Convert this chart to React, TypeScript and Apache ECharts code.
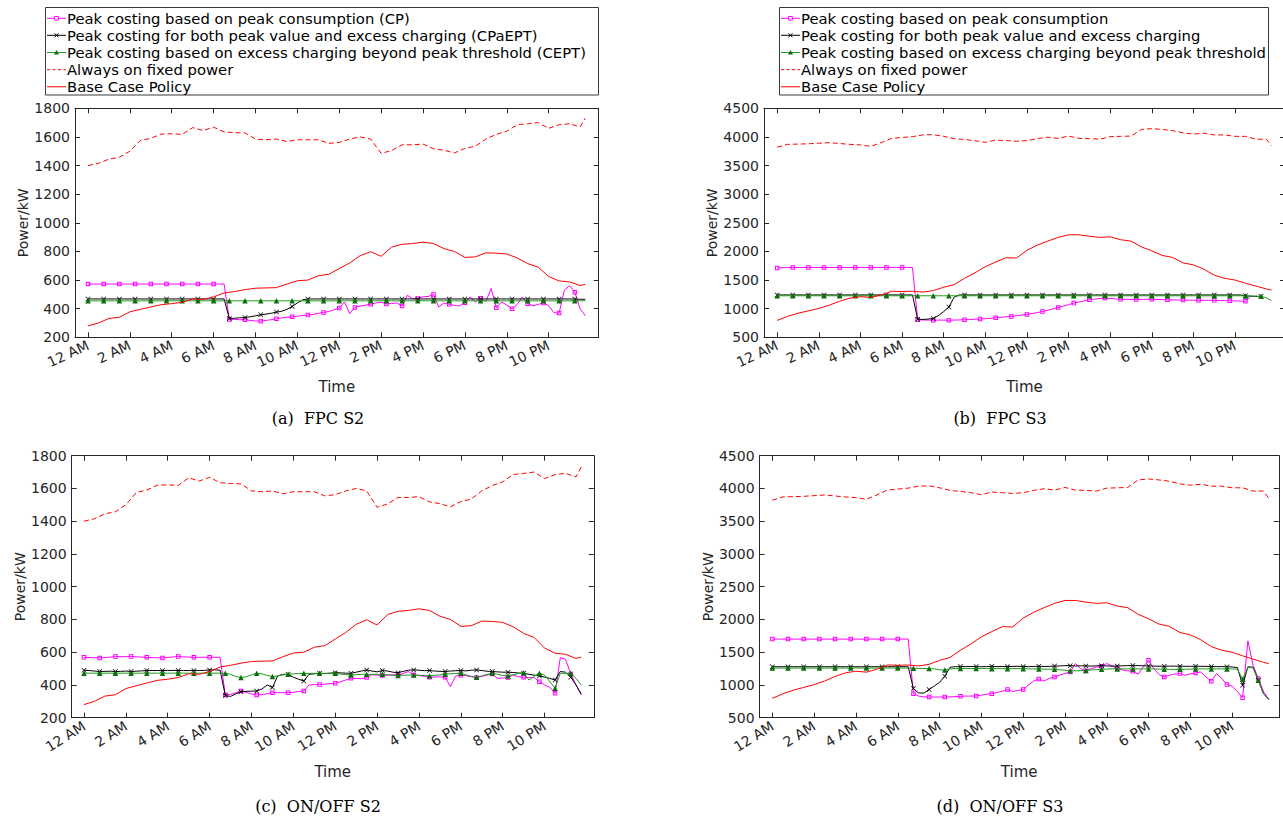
import React, { useEffect, useRef } from "react";
import * as echarts from "echarts";

// ---------- time grids ----------
const HOURS_15 = Array.from({ length: 96 }, (_, i) => i * 0.25);
const HOURS_30 = [...Array.from({ length: 48 }, (_, i) => i * 0.5), 23.75];
const TICK_HOURS = [0, 2, 4, 6, 8, 10, 12, 14, 16, 18, 20, 22];
const TICK_LABELS = ["12 AM", "2 AM", "4 AM", "6 AM", "8 AM", "10 AM", "12 PM", "2 PM", "4 PM", "6 PM", "8 PM", "10 PM"];

const LEGEND_A = [
  "Peak costing based on peak consumption (CP)",
  "Peak costing for both peak value and excess charging (CPaEPT)",
  "Peak costing based on excess charging beyond peak threshold (CEPT)",
  "Always on fixed power",
  "Base Case Policy",
];
const LEGEND_B = [
  "Peak costing based on peak consumption",
  "Peak costing for both peak value and excess charging",
  "Peak costing based on excess charging beyond peak threshold",
  "Always on fixed power",
  "Base Case Policy",
];
const CAPTIONS = ["(a)  FPC S2", "(b)  FPC S3", "(c)  ON/OFF S2", "(d)  ON/OFF S3"];

// ---------- shared red curves (30-min) ----------
const alwaysOnS2 = [1400, 1415, 1445, 1458, 1500, 1575, 1590, 1620, 1622, 1618, 1665, 1645, 1668, 1635, 1630, 1628, 1585, 1580, 1585, 1568, 1580, 1580, 1580, 1555, 1562, 1585, 1600, 1585, 1485, 1505, 1545, 1545, 1550, 1518, 1507, 1488, 1520, 1535, 1585, 1618, 1640, 1685, 1692, 1700, 1660, 1685, 1692, 1670, 1730];
const baseS2 = [280, 300, 332, 340, 378, 395, 412, 428, 435, 445, 468, 465, 482, 510, 520, 533, 543, 545, 547, 572, 595, 600, 630, 640, 680, 720, 770, 798, 766, 830, 850, 855, 865, 855, 820, 800, 758, 762, 790, 788, 782, 755, 715, 690, 625, 594, 587, 562, 570];
const alwaysOnS3 = [3820, 3870, 3875, 3880, 3890, 3900, 3885, 3870, 3860, 3835, 3900, 3975, 3990, 4005, 4035, 4040, 4010, 3970, 3955, 3935, 3905, 3945, 3935, 3925, 3935, 3970, 3995, 3975, 4015, 3975, 3970, 3960, 4005, 4010, 4015, 4130, 4145, 4130, 4110, 4070, 4050, 4065, 4035, 4035, 4010, 4010, 3960, 3960, 3850];
const baseS3 = [795, 865, 920, 962, 1005, 1060, 1130, 1185, 1210, 1195, 1240, 1305, 1300, 1305, 1290, 1315, 1375, 1420, 1530, 1625, 1735, 1815, 1890, 1885, 2020, 2110, 2180, 2245, 2290, 2290, 2265, 2245, 2255, 2205, 2180, 2080, 2010, 1930, 1895, 1800, 1765, 1690, 1585, 1530, 1500, 1445, 1395, 1345, 1325];

// ---------- (a) FPC S2 (15-min) ----------
const fpcS2_CP = [
  572, 572, 572, 572, 572, 572, 572, 572, 572, 572, 572, 572,
  572, 572, 572, 572, 572, 572, 572, 572, 572, 572, 572, 572,
  572, 572, 572, 325, 325, 323, 322, 318, 314, 313, 318, 323,
  329, 335, 340, 343, 347, 352, 355, 360, 367, 374, 380, 392,
  405, 447, 365, 409, 418, 425, 431, 440, 445, 433, 436, 440,
  419, 494, 470, 471, 483, 485, 499, 412, 440, 431, 422, 420,
  442, 482, 447, 473, 450, 541, 407, 447, 425, 400, 430, 482,
  435, 420, 430, 440, 420, 372, 369, 529, 560, 515, 400, 351,
];
const fpcS2_CPaEPT = [
  468, 468, 468, 468, 468, 468, 468, 468, 468, 468, 468, 468,
  468, 468, 468, 468, 468, 468, 468, 468, 468, 468, 468, 468,
  468, 468, 468, 332, 333, 336, 339, 343, 350, 357, 362, 368,
  376, 382, 395, 415, 440, 462, 468, 468, 468, 468, 468, 468,
  468, 468, 468, 468, 468, 468, 468, 468, 468, 468, 468, 468,
  468, 468, 468, 468, 468, 468, 468, 468, 468, 468, 468, 468,
  468, 468, 468, 468, 468, 468, 468, 468, 468, 468, 468, 468,
  468, 468, 468, 468, 468, 468, 468, 468, 468, 467, 466, 465,
];
const fpcS2_CEPT = [
  455, 455, 455, 455, 455, 455, 455, 455, 455, 455, 455, 455,
  455, 455, 455, 455, 455, 455, 455, 455, 455, 455, 455, 455,
  455, 455, 455, 455, 455, 455, 455, 455, 455, 455, 455, 455,
  455, 455, 455, 455, 455, 455, 455, 455, 455, 455, 455, 455,
  455, 455, 455, 455, 455, 455, 455, 455, 455, 455, 455, 455,
  455, 455, 455, 455, 455, 455, 455, 455, 455, 455, 455, 455,
  455, 455, 455, 455, 455, 455, 455, 455, 455, 455, 455, 455,
  455, 455, 455, 455, 455, 455, 455, 455, 455, 455, 455, 455,
];

// ---------- (b) FPC S3 ----------
const fpcS3_CP = [
  1712, 1716, 1718, 1720, 1720, 1720, 1720, 1720, 1720, 1720, 1720, 1720,
  1720, 1720, 1720, 1720, 1720, 1720, 1720, 1720, 1720, 1720, 1720, 1720,
  1720, 1720, 1720, 805, 803, 801, 800, 800, 800, 800, 801, 803,
  806, 810, 815, 818, 825, 833, 841, 850, 858, 865, 876, 888,
  900, 915, 932, 950, 972, 996, 1020, 1045, 1070, 1097, 1117, 1137,
  1155, 1167, 1178, 1185, 1178, 1170, 1165, 1163, 1161, 1160, 1162, 1164,
  1165, 1162, 1158, 1155, 1153, 1151, 1150, 1149, 1148, 1147, 1146, 1146,
  1145, 1143, 1140, 1138, 1135, 1132, 1128, 1218,
];
const fpcS3_CPaEPT = [
  1240, 1240, 1240, 1240, 1240, 1240, 1240, 1240, 1240, 1240, 1240, 1240,
  1240, 1240, 1240, 1240, 1240, 1240, 1240, 1240, 1240, 1240, 1240, 1240,
  1240, 1240, 1240, 815, 812, 818, 830, 880, 950, 1030, 1200, 1240,
  1240, 1240, 1240, 1240, 1240, 1240, 1240, 1240, 1240, 1240, 1240, 1240,
  1240, 1240, 1240, 1240, 1240, 1240, 1240, 1240, 1240, 1240, 1240, 1240,
  1240, 1240, 1240, 1240, 1240, 1240, 1240, 1240, 1240, 1240, 1240, 1240,
  1240, 1240, 1240, 1240, 1240, 1240, 1240, 1240, 1240, 1240, 1240, 1240,
  1240, 1240, 1240, 1240, 1240, 1240, 1225, 1218, 1215, 1215,
];
const fpcS3_CEPT = [
  1225, 1225, 1225, 1225, 1225, 1225, 1225, 1225, 1225, 1225, 1225, 1225,
  1225, 1225, 1225, 1225, 1225, 1225, 1225, 1225, 1225, 1225, 1225, 1225,
  1225, 1225, 1225, 1225, 1225, 1225, 1225, 1225, 1225, 1225, 1225, 1225,
  1225, 1225, 1225, 1225, 1225, 1225, 1225, 1225, 1225, 1225, 1225, 1225,
  1225, 1225, 1225, 1225, 1225, 1225, 1225, 1225, 1225, 1225, 1225, 1225,
  1225, 1225, 1225, 1225, 1225, 1225, 1225, 1225, 1225, 1225, 1225, 1225,
  1225, 1225, 1225, 1225, 1225, 1225, 1225, 1225, 1225, 1225, 1225, 1225,
  1225, 1225, 1225, 1225, 1225, 1225, 1222, 1220, 1218, 1215, 1190, 1140,
];

// ---------- (c) ON/OFF S2 ----------
const onoffS2_CP = [
  569, 568, 566, 565, 567, 570, 573, 573, 573, 573, 572, 570,
  569, 567, 566, 565, 568, 571, 573, 572, 570, 569, 569, 569,
  569, 569, 569, 339, 342, 352, 363, 355, 345, 339, 340, 347,
  353, 353, 353, 353, 355, 360, 363, 400, 402, 402, 405, 408,
  410, 420, 430, 441, 440, 438, 445, 462, 460, 457, 460, 462,
  461, 470, 482, 461, 458, 452, 447, 448, 450, 447, 390, 455,
  459, 456, 450, 445, 452, 460, 467, 440, 442, 445, 460, 450,
  447, 445, 445, 420, 400, 385, 349, 567, 557, 467, 400, 339,
];
const onoffS2_CPaEPT = [
  490, 488, 485, 482, 483, 484, 482, 483, 485, 482, 484, 486,
  488, 488, 488, 488, 488, 489, 488, 488, 488, 488, 488, 489,
  492, 492, 490, 335, 330, 345, 359, 361, 362, 363, 375, 400,
  384, 455, 465, 465, 447, 435, 424, 465, 468, 471, 470, 472,
  475, 474, 472, 471, 478, 485, 492, 485, 480, 488, 485, 478,
  475, 483, 490, 492, 490, 487, 488, 485, 483, 482, 485, 487,
  488, 486, 490, 492, 488, 484, 482, 480, 478, 478, 476, 473,
  471, 465, 460, 455, 448, 440, 430, 482, 478, 447, 400, 345,
];
const onoffS2_CEPT = [
  472, 472, 472, 472, 472, 472, 472, 472, 472, 472, 472, 472,
  472, 472, 472, 472, 472, 472, 472, 472, 472, 472, 472, 472,
  472, 472, 472, 471, 465, 452, 445, 450, 462, 471, 468, 458,
  451, 455, 462, 465, 468, 470, 471, 470, 471, 471, 470, 471,
  471, 466, 463, 461, 463, 465, 465, 465, 465, 465, 462, 459,
  457, 459, 461, 461, 459, 457, 455, 459, 462, 465, 468, 470,
  471, 462, 452, 447, 455, 465, 471, 465, 458, 455, 462, 470,
  475, 430, 452, 471, 460, 420, 380, 471, 471, 471, 440, 400,
];

// ---------- (d) ON/OFF S3 ----------
const onoffS3_CP = [
  1700, 1700, 1700, 1700, 1700, 1700, 1700, 1700, 1700, 1700, 1700, 1700,
  1700, 1700, 1700, 1700, 1700, 1700, 1700, 1700, 1700, 1700, 1700, 1700,
  1700, 1700, 1700, 867, 830, 818, 816, 816, 816, 816, 818, 822,
  827, 830, 830, 832, 845, 858, 867, 885, 905, 929, 900, 915,
  929, 1000, 1060, 1092, 1060, 1100, 1122, 1150, 1175, 1199, 1327, 1250,
  1214, 1250, 1270, 1286, 1327, 1290, 1250, 1230, 1215, 1209, 1163, 1280,
  1378, 1250, 1160, 1122, 1150, 1165, 1173, 1148, 1170, 1184, 1199, 1120,
  1056, 1173, 1100, 1005, 980, 900, 806, 1673, 1300, 1097, 900, 776,
];
const onoffS3_CPaEPT = [
  1278, 1278, 1278, 1278, 1278, 1278, 1278, 1278, 1278, 1278, 1278, 1278,
  1278, 1278, 1278, 1278, 1278, 1278, 1278, 1278, 1278, 1278, 1278, 1278,
  1278, 1278, 1278, 944, 878, 875, 929, 985, 1040, 1133, 1270, 1278,
  1280, 1280, 1282, 1280, 1278, 1280, 1285, 1280, 1282, 1280, 1283, 1285,
  1282, 1280, 1283, 1285, 1282, 1285, 1288, 1290, 1295, 1295, 1290, 1292,
  1290, 1288, 1292, 1295, 1290, 1288, 1290, 1292, 1295, 1296, 1295, 1292,
  1290, 1288, 1286, 1285, 1287, 1288, 1286, 1285, 1284, 1286, 1285, 1283,
  1282, 1280, 1280, 1278, 1275, 1265, 995, 1276, 1270, 1071, 867, 781,
];
const onoffS3_CEPT = [
  1258, 1258, 1258, 1258, 1258, 1258, 1258, 1258, 1258, 1258, 1258, 1258,
  1258, 1258, 1258, 1258, 1258, 1258, 1258, 1258, 1258, 1258, 1258, 1258,
  1258, 1258, 1258, 1255, 1252, 1250, 1250, 1245, 1230, 1228, 1245, 1250,
  1252, 1252, 1250, 1250, 1252, 1250, 1248, 1250, 1250, 1248, 1250, 1250,
  1248, 1246, 1245, 1244, 1242, 1240, 1238, 1232, 1225, 1218, 1215, 1218,
  1222, 1228, 1235, 1240, 1242, 1245, 1245, 1246, 1245, 1244, 1245, 1246,
  1245, 1244, 1242, 1240, 1238, 1236, 1238, 1240, 1242, 1244, 1245, 1245,
  1245, 1246, 1245, 1245, 1245, 1240, 1087, 1265, 1262, 1071, 867, 781,
];

// ---------- styling ----------
const AX = "#262626";
const MAGENTA = "#ff00ff";
const BLACK = "#000000";
const GREEN = "#1f9a1f";
const GREEN_MARK = "#0b6e0b";
const RED = "#ff0000";
const FONT = '"DejaVu Sans", sans-serif';
const X_PATH = "path://M0,1L1,0L5,4L9,0L10,1L6,5L10,9L9,10L5,6L1,10L0,9L4,5Z";
const SQ_PATH = "path://M0,0L10,0L10,10L0,10ZM2.2,2.2L2.2,7.8L7.8,7.8L7.8,2.2Z";

const PANELS = [
  { grid: { left: 75, top: 108.3, width: 523.7, height: 229 }, xMin: -0.62, xMax: 24.39, yMin: 200, yMax: 1800, yInt: 200, rot: 25, nameGap: 42,
    cp: fpcS2_CP, cpa: fpcS2_CPaEPT, cept: fpcS2_CEPT, always: alwaysOnS2, base: baseS2, names: LEGEND_A, cap: [318, 418] },
  { grid: { left: 764, top: 108.3, width: 521, height: 229 }, xMin: -0.634, xMax: 24.4, yMin: 500, yMax: 4500, yInt: 500, rot: 25, nameGap: 42,
    cp: fpcS3_CP, cpa: fpcS3_CPaEPT, cept: fpcS3_CEPT, always: alwaysOnS3, base: baseS3, names: LEGEND_B, cap: [1000, 418] },
  { grid: { left: 71.7, top: 455.7, width: 522.1, height: 262 }, xMin: -0.587, xMax: 24.35, yMin: 200, yMax: 1800, yInt: 200, rot: 32, nameGap: 47,
    cp: onoffS2_CP, cpa: onoffS2_CPaEPT, cept: onoffS2_CEPT, always: alwaysOnS2, base: baseS2, names: LEGEND_A, cap: [318, 806] },
  { grid: { left: 759.6, top: 455.7, width: 519.2, height: 262 }, xMin: -0.61, xMax: 24.23, yMin: 500, yMax: 4500, yInt: 500, rot: 32, nameGap: 47,
    cp: onoffS3_CP, cpa: onoffS3_CPaEPT, cept: onoffS3_CEPT, always: alwaysOnS3, base: baseS3, names: LEGEND_B, cap: [1000, 806] },
];

function markerLine(name: string, values: number[], idx: number, color: string, symbol: string, size: number, itemStyle: any, z: number) {
  return {
    type: "line",
    name,
    xAxisIndex: idx,
    yAxisIndex: idx,
    data: values.map((v, i) => ({ value: [HOURS_15[i], v], symbol: i % 3 === 0 ? symbol : "none" })),
    symbol,
    symbolSize: size,
    showSymbol: true,
    showAllSymbol: true,
    lineStyle: { color, width: 1 },
    itemStyle,
    z,
    silent: true,
    emphasis: { disabled: true },
  };
}

function plainLine(name: string, values: number[], idx: number, dashed: boolean, z: number) {
  return {
    type: "line",
    name,
    xAxisIndex: idx,
    yAxisIndex: idx,
    data: values.map((v, i) => [HOURS_30[i], v]),
    symbol: "none",
    showSymbol: false,
    lineStyle: { color: RED, width: 1, type: dashed ? [5, 3] : "solid" },
    z,
    silent: true,
    emphasis: { disabled: true },
  };
}

function legendBlock(x0: number, y0: number, w: number, h: number, labels: string[]) {
  const els: any[] = [
    { type: "rect", shape: { x: x0, y: y0, width: w, height: h }, style: { fill: "#fff", stroke: "#3a3a3a", lineWidth: 1 }, z: 100 },
  ];
  const rows = [18.3, 35.3, 52.5, 69.7, 86.8];
  const lx1 = x0 + 1.5;
  const lx2 = x0 + 20.5;
  const cx = (lx1 + lx2) / 2;
  const colors = [MAGENTA, BLACK, GREEN, RED, RED];
  rows.forEach((ry, i) => {
    els.push({
      type: "line",
      shape: { x1: lx1, y1: ry, x2: lx2, y2: ry },
      style: { stroke: colors[i], lineWidth: 1, lineDash: i === 3 ? [3, 2.5] : null },
      z: 101,
    });
  });
  els.push({ type: "rect", shape: { x: cx - 1.8, y: rows[0] - 1.8, width: 3.6, height: 3.6 }, style: { fill: "#fff", stroke: MAGENTA, lineWidth: 1 }, z: 102 });
  els.push({ type: "line", shape: { x1: cx - 2, y1: rows[1] - 2, x2: cx + 2, y2: rows[1] + 2 }, style: { stroke: BLACK, lineWidth: 1 }, z: 102 });
  els.push({ type: "line", shape: { x1: cx - 2, y1: rows[1] + 2, x2: cx + 2, y2: rows[1] - 2 }, style: { stroke: BLACK, lineWidth: 1 }, z: 102 });
  els.push({ type: "polygon", shape: { points: [[cx, rows[2] - 2.6], [cx + 2.6, rows[2] + 2], [cx - 2.6, rows[2] + 2]] }, style: { fill: GREEN_MARK }, z: 102 });
  labels.forEach((t, i) => {
    els.push({
      type: "text",
      z: 102,
      style: {
        text: t,
        x: x0 + 21.5,
        y: rows[i],
        font: '14.8px "DejaVu Sans"',
        fill: "#000",
        align: "left",
        verticalAlign: "middle",
        textAlign: "left",
        textVerticalAlign: "middle",
      },
    });
  });
  return els;
}

function buildOption() {
  const grid: any[] = [];
  const xAxis: any[] = [];
  const yAxis: any[] = [];
  const series: any[] = [];
  const graphics: any[] = [];

  PANELS.forEach((p) => {
    grid.push({ ...p.grid, show: false, containLabel: false, outerBoundsMode: "none" });
  });
  // bottom x axes
  PANELS.forEach((p, i) => {
    xAxis.push({
      type: "value",
      gridIndex: i,
      position: "bottom",
      min: p.xMin,
      max: p.xMax,
      axisLine: { show: true, onZero: false, lineStyle: { color: AX, width: 1 } },
      axisTick: { show: true, inside: true, length: 5, customValues: TICK_HOURS, lineStyle: { color: AX } },
      axisLabel: {
        show: true,
        customValues: TICK_HOURS,
        formatter: (v: number) => {
          const k = TICK_HOURS.indexOf(Math.round(v));
          return k >= 0 ? TICK_LABELS[k] : "";
        },
        rotate: p.rot,
        margin: 7,
        fontSize: 14,
        fontFamily: FONT,
        color: AX,
      },
      splitLine: { show: false },
      name: "Time",
      nameLocation: "middle",
      nameGap: p.nameGap,
      nameTextStyle: { fontSize: 15, fontFamily: FONT, color: AX },
    });
  });
  // top x axes (box)
  PANELS.forEach((p, i) => {
    xAxis.push({
      type: "value",
      gridIndex: i,
      position: "top",
      min: p.xMin,
      max: p.xMax,
      axisLine: { show: true, onZero: false, lineStyle: { color: AX, width: 1 } },
      axisTick: { show: true, inside: true, length: 5, customValues: TICK_HOURS, lineStyle: { color: AX } },
      axisLabel: { show: false },
      splitLine: { show: false },
    });
  });
  // left y axes
  PANELS.forEach((p, i) => {
    yAxis.push({
      type: "value",
      gridIndex: i,
      position: "left",
      min: p.yMin,
      max: p.yMax,
      interval: p.yInt,
      axisLine: { show: true, onZero: false, lineStyle: { color: AX, width: 1 } },
      axisTick: { show: true, inside: true, length: 5, lineStyle: { color: AX } },
      axisLabel: {
        show: true,
        margin: 5,
        fontSize: 14,
        fontFamily: FONT,
        color: AX,
        formatter: (v: number) => String(Math.round(v)),
      },
      splitLine: { show: false },
      name: "Power/kW",
      nameLocation: "middle",
      nameRotate: 90,
      nameGap: 45,
      nameTextStyle: { fontSize: 14, fontFamily: FONT, color: AX },
    });
  });
  // right y axes (box)
  PANELS.forEach((p, i) => {
    yAxis.push({
      type: "value",
      gridIndex: i,
      position: "right",
      min: p.yMin,
      max: p.yMax,
      interval: p.yInt,
      axisLine: { show: true, onZero: false, lineStyle: { color: AX, width: 1 } },
      axisTick: { show: true, inside: true, length: 5, lineStyle: { color: AX } },
      axisLabel: { show: false },
      splitLine: { show: false },
    });
  });

  PANELS.forEach((p, i) => {
    series.push(markerLine(p.names[0], p.cp, i, MAGENTA, SQ_PATH, 4.5, { color: MAGENTA, borderWidth: 0 }, 2));
    series.push(markerLine(p.names[1], p.cpa, i, BLACK, X_PATH, 5, { color: BLACK, borderWidth: 0 }, 3));
    series.push(markerLine(p.names[2], p.cept, i, GREEN, "triangle", 5.5, { color: GREEN_MARK, borderWidth: 0 }, 4));
    series.push(plainLine(p.names[3], p.always, i, true, 5));
    series.push(plainLine(p.names[4], p.base, i, false, 6));
  });

  graphics.push(...legendBlock(45.5, 7.5, 553, 87.5, LEGEND_A));
  graphics.push(...legendBlock(779.5, 7.5, 489, 87.5, LEGEND_B));
  PANELS.forEach((p, i) => {
    graphics.push({
      type: "text",
      z: 100,
      style: {
        text: CAPTIONS[i],
        x: p.cap[0],
        y: p.cap[1],
        font: '16px "DejaVu Serif"',
        fill: "#000",
        align: "center",
        verticalAlign: "middle",
        textAlign: "center",
        textVerticalAlign: "middle",
      },
    });
  });

  return {
    animation: false,
    backgroundColor: "#ffffff",
    grid,
    xAxis,
    yAxis,
    series,
    graphic: { elements: graphics },
  };
}

export default function App() {
  const ref = useRef<HTMLDivElement>(null);
  useEffect(() => {
    if (!ref.current) return;
    const chart = echarts.init(ref.current, undefined, { renderer: "svg" });
    chart.setOption(buildOption() as any);
    return () => {
      chart.dispose();
    };
  }, []);
  return (
    <div
      ref={ref}
      style={{ position: "absolute", left: 0, top: 0, width: 1283, height: 823, background: "#fff" }}
    />
  );
}
